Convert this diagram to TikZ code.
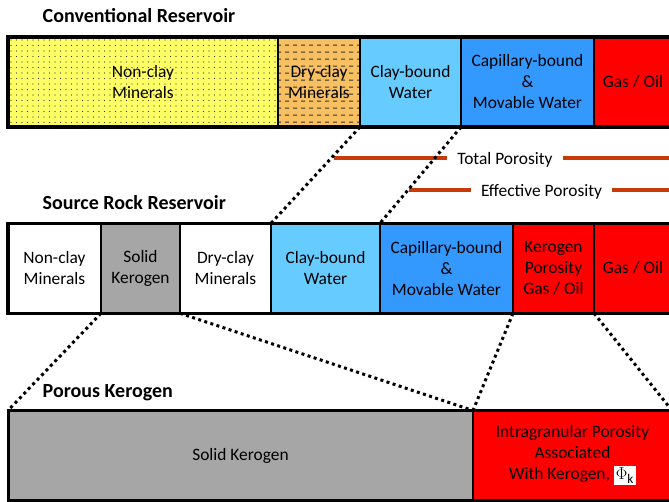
\documentclass[tikz,border=0pt]{standalone}
\usepackage{fontspec}
\setmainfont{Carlito}
\usetikzlibrary{positioning,patterns.meta}
\definecolor{rYellow}{RGB}{255,255,102}
\definecolor{rSand}{RGB}{248,192,96}
\definecolor{rSky}{RGB}{102,204,255}
\definecolor{rBlue}{RGB}{51,153,255}
\definecolor{rRed}{RGB}{255,0,0}
\definecolor{rGray}{RGB}{166,166,166}
\definecolor{rRust}{RGB}{200,58,8}
\tikzdeclarepattern{
  name=claydash,
  type=uncolored,
  bottom left={(0pt,0pt)},
  top right={(7.5pt,6.5pt)},
  tile size={(7.5pt,6.5pt)},
  code={\draw[line width=1pt] (0pt,3pt) -- (4.5pt,3pt);}
}

\begin{document}
\begin{tikzpicture}[
			x=1pt,y=-1pt,
			node distance=0pt,
			cell/.style={
				draw=black,
				line width=1.5pt,
				outer sep=0pt,
				inner sep=0pt,
				minimum height=90pt,
				align=center,
				font=\fontsize{17.4}{21}\selectfont
			},
			title/.style={anchor=base west,inner sep=0pt,font=\fontsize{20}{24}\selectfont\bfseries},
			frame/.style={draw=black,line width=3.5pt},
			zoomline/.style={line width=3pt,dash pattern=on 3pt off 3.4pt},
			porline/.style={draw=rRust,line width=4pt},
			porlabel/.style={inner xsep=10pt,inner ysep=0pt,font=\fontsize{17.4}{21}\selectfont}
			]
			\clip (0,0) rectangle (669,502);
			% conventional reservoir
			\node[title] (ctitle) at (42.5,23) {Conventional Reservoir};
			\node[cell,anchor=north west,minimum width=270pt,preaction={fill=rYellow},
				pattern={Dots[distance=5.5pt,radius=0.6pt]},pattern color=black!80] (cnon) at (8,37) {Non-clay\\Minerals};
			\node[cell,right=of cnon,minimum width=82pt,preaction={fill=rSand},
				pattern=claydash,pattern color=black!80] (cdry) {Dry-clay\\Minerals};
			\node[cell,right=of cdry,minimum width=101pt,fill=rSky] (cclay) {Clay-bound\\Water};
			\node[cell,right=of cclay,minimum width=133pt,fill=rBlue] (ccap) {Capillary-bound\\\&\\Movable Water};
			\node[cell,right=of ccap,minimum width=78pt,fill=rRed] (cgas) {Gas / Oil};
			\draw[frame] (cnon.north west) rectangle (cgas.south east);
			% porosity ranges
			\node[porlabel] (totpor) at (505,160) {Total Porosity};
			\node[porlabel] (effpor) at (541.5,192) {Effective Porosity};
			\coordinate (totL) at (334,158);
			\coordinate (totR) at (672,158);
			\coordinate (effL) at (409,190);
			\coordinate (effR) at (672,190);
			\draw[porline] (totL) -- (totL -| totpor.west);
			\draw[porline] (totR -| totpor.east) -- (totR);
			\draw[porline] (effL) -- (effL -| effpor.west);
			\draw[porline] (effR -| effpor.east) -- (effR);
			% source rock reservoir
			\node[title] (stitle) at (42.5,209.5) {Source Rock Reservoir};
			\node[cell,anchor=north west,minimum width=93pt,fill=white] (snon) at (8,223.3) {Non-clay\\Minerals};
			\node[cell,right=of snon,minimum width=79pt,fill=rGray] (ssolid) {Solid\\Kerogen};
			\node[cell,right=of ssolid,minimum width=91pt,fill=white] (sdry) {Dry-clay\\Minerals};
			\node[cell,right=of sdry,minimum width=109pt,fill=rSky] (sclay) {Clay-bound\\Water};
			\node[cell,right=of sclay,minimum width=133pt,fill=rBlue] (scap) {Capillary-bound\\\&\\Movable Water};
			\node[cell,right=of scap,minimum width=81pt,fill=rRed] (sker) {Kerogen\\Porosity\\Gas / Oil};
			\node[cell,right=of sker,minimum width=78pt,fill=rRed] (sgas) {Gas / Oil};
			\draw[frame] (snon.north west) rectangle (sgas.south east);
			% porous kerogen
			\node[title] (ptitle) at (42.5,397.5) {Porous Kerogen};
			\node[cell,anchor=north west,minimum width=465pt,fill=rGray] (psolid) at (8,410.5) {Solid Kerogen};
			\node[cell,right=of psolid,minimum width=199pt,fill=rRed] (pintra) {Intragranular Porosity\\Associated\\With Kerogen, {\setlength{\fboxsep}{2pt}\colorbox{white}{\fontsize{19}{21}\selectfont$\Phi_{\mathrm{k}}$}}};
			\draw[frame,line width=3pt] (psolid.north west) rectangle (pintra.south east);
			% zoom lines
			\draw[zoomline] (cclay.south west) -- (sclay.north west);
			\draw[zoomline] (ccap.south west) -- (scap.north west);
			\draw[zoomline] (ssolid.south west) -- (psolid.north west);
			\draw[zoomline] (sdry.south west) -- (pintra.north west);
			\draw[zoomline] (sker.south west) -- (pintra.north west);
			\draw[zoomline] (sgas.south west) -- (pintra.north east);
		\end{tikzpicture}
\end{document}
